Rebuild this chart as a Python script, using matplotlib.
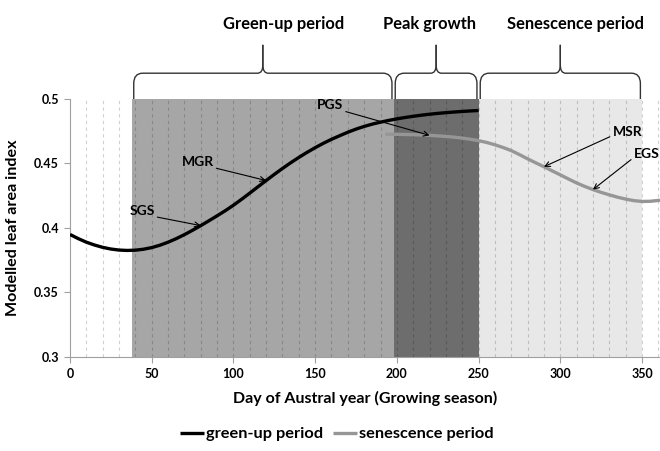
import numpy as np
import matplotlib
matplotlib.use("Agg")
import matplotlib.pyplot as plt
from matplotlib.path import Path
from matplotlib.patches import PathPatch
from matplotlib.transforms import blended_transform_factory
from matplotlib.ticker import FuncFormatter, MultipleLocator

plt.rcParams["font.family"] = ["Lato", "DejaVu Sans"]
plt.rcParams["font.weight"] = "bold"

# Modelled LAI, green-up phase (day of austral year)
green_days = [0, 5, 10, 15, 20, 25, 30, 35, 40, 45, 50, 55, 60, 65, 70, 75,
              80, 85, 90, 95, 100, 105, 110, 115, 120, 125, 130, 135, 140,
              145, 150, 155, 160, 165, 170, 175, 180, 185, 190, 195, 200,
              205, 210, 215, 220, 225, 230, 235, 240, 245, 250]
green_lai = [0.395, 0.3918, 0.389, 0.3868, 0.385, 0.3837, 0.3829, 0.3826,
             0.3828, 0.38355, 0.3848, 0.38665, 0.389, 0.39175, 0.39485,
             0.39825, 0.40185, 0.4056, 0.40945, 0.4134, 0.41765, 0.42225,
             0.42705, 0.43195, 0.4368, 0.44155, 0.44615, 0.45055, 0.4547,
             0.4586, 0.46225, 0.46565, 0.46875, 0.47155, 0.47425, 0.47665,
             0.47875, 0.48055, 0.48205, 0.4834, 0.4846, 0.48565, 0.4866,
             0.48745, 0.4882, 0.48885, 0.4894, 0.4899, 0.49035, 0.49075,
             0.4911]

# Modelled LAI, senescence phase
sen_days = [193, 200, 205, 210, 215, 220, 225, 230, 235, 240, 245, 250, 255,
            260, 265, 270, 275, 280, 285, 290, 295, 300, 305, 310, 315, 320,
            325, 330, 335, 340, 345, 350, 355, 361]
sen_lai = [0.4727, 0.4726, 0.4725, 0.4723, 0.4721, 0.4718, 0.4714, 0.471,
           0.4704, 0.4697, 0.4688, 0.4677, 0.4663, 0.4645, 0.4624, 0.46,
           0.4569, 0.4536, 0.4505, 0.4475, 0.4443, 0.4412, 0.438, 0.4349,
           0.4322, 0.4298, 0.4276, 0.4257, 0.4239, 0.4224, 0.4212, 0.4206,
           0.4207, 0.4215]

period_names = ["Green-up period", "Peak growth", "Senescence period"]
period_bounds = [38, 198, 250, 350]
period_colors = ["#a6a6a6", "#6d6d6d", "#e8e8e8"]
period_label_x = [131, 220, 309]

# phenological markers: (label, series, day, text position, arrow start)
markers = [
    ("SGS", "green", 80, (44, 0.4135), (1, 0)),
    ("MGR", "green", 120, (78, 0.4515), (1, 0)),
    ("PGS", "sen", 220, (159, 0.4955), (1, 0)),
    ("MSR", "sen", 290, (332, 0.4745), (0, 0.2)),
    ("EGS", "sen", 320, (345, 0.4575), (0, 0.2)),
]

fig = plt.figure(figsize=(6.6, 4.51), dpi=100)
ax = fig.add_axes([70 / 660, (451 - 357) / 451, 590 / 660, 258 / 451])

for (lo, hi), c in zip(zip(period_bounds[:-1], period_bounds[1:]), period_colors):
    ax.axvspan(lo, hi, color=c, lw=0, zorder=0)

ax.vlines(np.arange(10, 361, 10), 0.3, 0.5, colors="black", alpha=0.18,
          linestyles=(0, (3, 3)), lw=0.8, zorder=1)

ax.plot(green_days, green_lai, color="black", lw=2.4, zorder=4,
        solid_capstyle="butt", label="green-up period")
ax.plot(sen_days, sen_lai, color="#969696", lw=2.4, zorder=3,
        solid_capstyle="butt", label="senescence period")

series = {"green": (green_days, green_lai), "sen": (sen_days, sen_lai)}
for label, key, day, txy, rp in markers:
    d, v = series[key]
    y = v[d.index(day)]
    ax.annotate(label, xy=(day, y), xytext=txy, textcoords="data",
                ha="left" if rp[0] == 0 else "center", va="center",
                fontsize=10, fontweight="bold", annotation_clip=False,
                arrowprops=dict(arrowstyle="->", color="black", lw=0.8,
                                relpos=rp, shrinkA=0, shrinkB=0,
                                mutation_scale=9),
                zorder=6)

# curly braces above the chart
trans = blended_transform_factory(ax.transData, ax.transAxes)
y_end, y_base, y_tip = 1.0, 1.10, 1.21
cy, rx = 0.04, 5.5
for (lo, hi), name, lx in zip(zip(period_bounds[:-1], period_bounds[1:]),
                              period_names, period_label_x):
    lo_b, hi_b = lo + 1, hi - 1
    mid = (lo + hi) / 2
    for x0, s in ((lo_b, 1), (hi_b, -1)):
        verts = [(x0, y_end), (x0, y_base - cy), (x0, y_base),
                 (x0 + s * rx, y_base), (mid - s * rx * 0.6, y_base),
                 (mid, y_base), (mid, y_base + cy * 0.8), (mid, y_tip)]
        codes = [Path.MOVETO, Path.LINETO, Path.CURVE3, Path.CURVE3,
                 Path.LINETO, Path.CURVE3, Path.CURVE3, Path.LINETO]
        ax.add_patch(PathPatch(Path(verts, codes), fill=False,
                               edgecolor="#333333", lw=1.0,
                               transform=trans, clip_on=False))
    ax.text(lx, 1.29, name, transform=trans, ha="center", va="center",
            fontsize=11.9, fontweight="bold")

ax.set_xlim(0, 361)
ax.set_ylim(0.3, 0.5)
ax.xaxis.set_major_locator(MultipleLocator(50))
ax.yaxis.set_major_locator(MultipleLocator(0.05))
ax.yaxis.set_major_formatter(FuncFormatter(lambda v, p: f"{v:g}"))
for s in ("top", "right"):
    ax.spines[s].set_visible(False)
for s in ("left", "bottom"):
    ax.spines[s].set_color("#a0a0a0")
    ax.spines[s].set_linewidth(0.8)
ax.tick_params(axis="both", length=4, width=0.8, color="#a0a0a0",
               labelsize=9, pad=4)
for lab in ax.get_xticklabels() + ax.get_yticklabels():
    lab.set_fontweight("bold")

ax.set_xlabel("Day of Austral year (Growing season)", fontsize=11.5,
              fontweight="bold", labelpad=8)
ax.set_ylabel("Modelled leaf area index", fontsize=11.6,
              fontweight="bold", labelpad=10)

fig.legend(loc="center", bbox_to_anchor=(337 / 660, 1 - 434 / 451), ncol=2,
           frameon=False, fontsize=11.8, handlelength=1.45, handletextpad=0.15,
           columnspacing=0.6)

fig.savefig("out.png", dpi=100)
